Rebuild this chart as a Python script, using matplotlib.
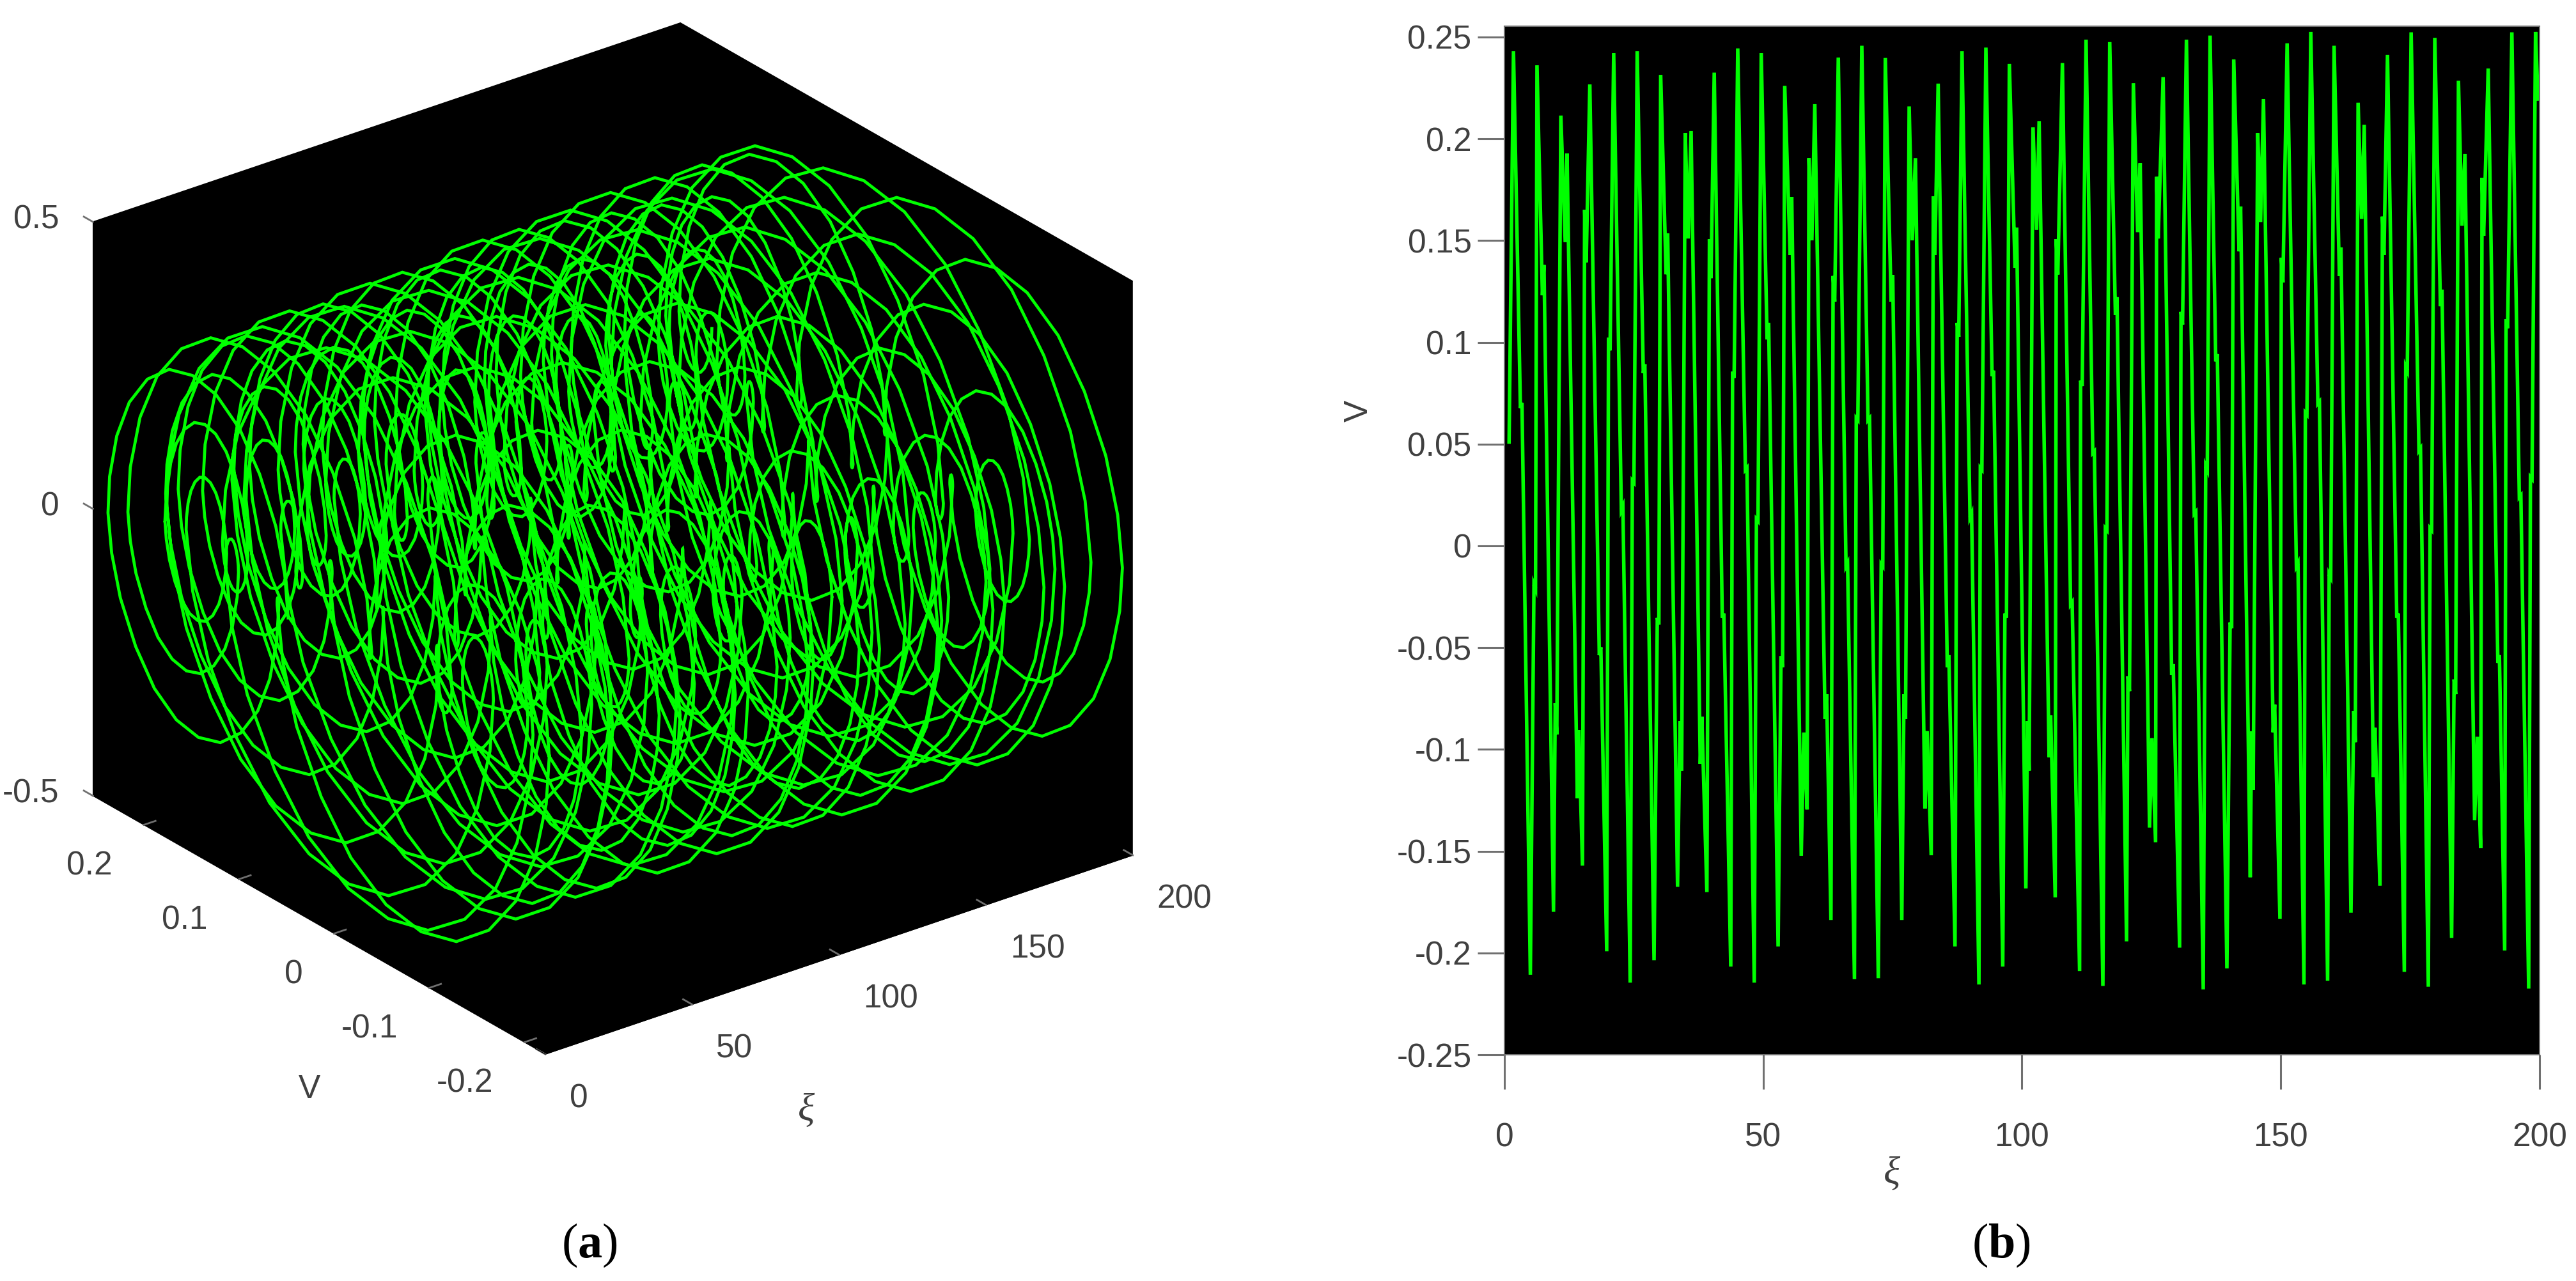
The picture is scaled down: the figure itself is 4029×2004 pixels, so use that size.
'''
(a) 3D phase orbit and (b) time series of V against xi, green on black
'''

import matplotlib
matplotlib.use('Agg')
import matplotlib.pyplot as plt
import numpy as np

# peaks, troughs and the small dips of the double peaks, in order along xi
xi_ext = [0.90, 1.75, 5.01, 6.29, 9.48, 10.90, 11.75, 12.10, 14.09, 14.37, 15.08, 16.50, 19.76, 21.11, 24.30,
          25.65, 28.91, 30.19, 33.45, 34.94, 35.50, 36.07, 39.12, 40.54, 43.73, 45.08, 48.27, 49.62, 52.88, 54.16,
          57.35, 57.85, 58.48, 58.84, 59.40, 59.97, 63.09, 64.51, 67.63, 69.05, 72.24, 73.59, 76.78, 78.20, 78.80,
          79.41, 81.25, 81.67, 82.46, 83.80, 87.06, 88.41, 91.68, 93.02, 96.28, 97.56, 100.75, 102.13, 102.82, 103.31,
          106.42, 107.81, 111.13, 112.38, 115.63, 116.95, 120.20, 121.52, 122.35, 122.84, 124.64, 125.12, 125.81,
          127.27, 130.45, 131.77, 135.02, 136.34, 139.59, 140.91, 144.10, 145.55, 146.10, 146.66, 149.84, 151.23,
          154.48, 155.80, 159.05, 160.30, 163.56, 164.94, 165.63, 166.12, 169.16, 170.62, 173.87, 175.19, 178.51,
          179.76, 183.01, 184.33, 185.02, 185.58, 187.45, 187.98, 188.62, 190.08, 193.26, 194.65, 197.90, 199.22, 199.70]
v_ext = [0.0510, 0.2430, -0.2107, 0.2361, -0.1798, 0.2114, 0.1492, 0.1928, -0.1240, -0.0905, -0.1571, 0.2267, -0.1992, 0.2421, -0.2146,
         0.2430, -0.2036, 0.2314, -0.1675, 0.2028, 0.1510, 0.2038, -0.1701, 0.2325, -0.2067, 0.2444, -0.2146, 0.2421, -0.1968, 0.2260,
         -0.1523, -0.0917, -0.1295, 0.1905, 0.1501, 0.2170, -0.1838, 0.2399, -0.2129, 0.2457, -0.2124, 0.2397, -0.1838, 0.2159, 0.1501,
         0.1905, -0.1291, -0.0910, -0.1520, 0.2271, -0.1968, 0.2430, -0.2155, 0.2448, -0.2067, 0.2368, -0.1683, 0.2056, 0.1552, 0.2087,
         -0.1727, 0.2372, -0.2089, 0.2487, -0.2162, 0.2475, -0.1943, 0.2273, 0.1541, 0.1880, -0.1384, -0.0945, -0.1456,
         0.2303, -0.1974, 0.2487, -0.2179, 0.2507, -0.2076, 0.2390, -0.1628, 0.2028, 0.1591, 0.2195, -0.1833, 0.2469,
         -0.2155, 0.2525, -0.2137, 0.2457, -0.1802, 0.2177, 0.1606, 0.2069, -0.1670, 0.2412, -0.2093, 0.2523, -0.2166,
         0.2496, -0.1926, 0.2285, 0.1573, 0.1925, -0.1348, -0.0938, -0.1485, 0.2345, -0.1988, 0.2523, -0.2175, 0.2525, 0.2195]

# ledges on the way down
fall_xi = [3.24, 7.49, 18.48, 22.74, 26.98, 31.39, 37.99, 42.24, 46.71, 50.90, 55.36, 62.10, 66.15, 70.40, 74.87, 85.72, 90.11, 94.37,
           98.81, 105.39, 109.54, 113.83, 118.20, 129.07, 133.43, 137.59, 142.09, 148.67, 153.17, 157.32, 161.48, 168.05, 172.56,
           176.85, 181.00, 192.09, 196.24]
fall_hi = [0.0703, 0.1380, -0.0498, 0.0194, 0.0892, 0.1534, -0.0839, -0.0332, 0.0383, 0.1096, 0.1714, -0.0729, -0.0085, 0.0627, 0.1330, -0.0537, 0.0158, 0.0861,
           0.1564, -0.0833, -0.0277, 0.0464, 0.1222, -0.0581, 0.0167, 0.0942, 0.1667, -0.0780, -0.0085, 0.0708, 0.1465, -0.0894, -0.0332,
           0.0479, 0.1258, -0.0537, 0.0248]
fall_lo = [0.0677, 0.1231, -0.0537, 0.0176, 0.0849, 0.1334, -0.1071, -0.0354, 0.0374, 0.1014, 0.1429, -0.0850, -0.0100, 0.0618, 0.1200, -0.0597, 0.0140, 0.0834,
           0.1366, -0.1038, -0.0288, 0.0456, 0.1135, -0.0634, 0.0158, 0.0906, 0.1447, -0.0916, -0.0100, 0.0699, 0.1326, -0.1137, -0.0354,
           0.0468, 0.1177, -0.0575, 0.0239]

# ledges on the way up
rise_xi = [5.86, 9.97, 15.65, 20.26, 24.87, 29.69, 34.09, 39.76, 44.23, 48.84, 53.59, 63.66, 68.13, 72.95, 77.35, 83.02, 87.63, 92.10, 96.85,
           101.23, 106.77, 111.48, 116.26, 120.62, 126.16, 130.87, 135.65, 140.36, 144.51, 150.26, 154.90, 159.50, 164.25, 169.79, 174.29,
           179.00, 183.64, 189.04, 193.68, 198.39]
rise_hi = [-0.0190, -0.0773, 0.1651, 0.1023, 0.0320, -0.0354, -0.0861, 0.1506, 0.0856, 0.0131, -0.0542, 0.1326, 0.0627, -0.0090, -0.0729, 0.1717, 0.1096, 0.0383, -0.0332,
           -0.0861, 0.1507, 0.0812, 0.0086, -0.0641, 0.1813, 0.1150, 0.0392, -0.0376, -0.0912, 0.1415, 0.0654, -0.0140, -0.0811, 0.1618, 0.0879,
           0.0086, -0.0656, 0.1808, 0.1114, 0.0338]
rise_lo = [-0.0210, -0.0927, 0.1393, 0.0960, 0.0311, -0.0387, -0.1104, 0.1315, 0.0825, 0.0122, -0.0597, 0.1200, 0.0618, -0.0100, -0.0850, 0.1429, 0.1027, 0.0374, -0.0354,
           -0.1104, 0.1333, 0.0785, 0.0077, -0.0714, 0.1510, 0.1087, 0.0374, -0.0405, -0.1199, 0.1294, 0.0645, -0.0155, -0.0965, 0.1429, 0.0861,
           0.0077, -0.0729, 0.1523, 0.1069, 0.0329]

# shape of one polygonal half turn of the orbit
arc_v_frac = [0.0, 0.02, 0.07, 0.16, 0.27, 0.40, 0.53, 0.66, 0.78, 0.88, 0.95, 0.99, 1.0]
arc_z_frac = [0.0, 0.22, 0.45, 0.68, 0.86, 0.97, 1.0, 0.96, 0.84, 0.66, 0.44, 0.20, 0.0]

xi_ticks = [0, 50, 100, 150, 200]
v_ticks_3d = [-0.2, -0.1, 0, 0.1, 0.2]
z_ticks = [-0.5, 0, 0.5]
v_ticks = [-0.25, -0.2, -0.15, -0.1, -0.05, 0, 0.05, 0.1, 0.15, 0.2, 0.25]

W, H = 4029, 2004
GREEN = '#00ff00'
TXT = '#404040'
TICK = '#707070'
plt.rcParams['font.family'] = ['Liberation Sans', 'DejaVu Sans']
plt.rcParams['mathtext.fontset'] = 'custom'
plt.rcParams['mathtext.bf'] = 'Liberation Serif:bold'
plt.rcParams['mathtext.rm'] = 'Liberation Serif'

# merge everything into one line, ordered by xi
d = 0.15
xs = list(xi_ext)
vs = list(v_ext)
for x, hi, lo in zip(fall_xi, fall_hi, fall_lo):
    xs += [x - d, x + d]
    vs += [lo, hi]
for x, hi, lo in zip(rise_xi, rise_hi, rise_lo):
    xs += [x - d, x + d]
    vs += [hi, lo]
xs = np.array(xs)
vs = np.array(vs)
order = np.argsort(xs)
xs = xs[order]
vs = vs[order]

# the orbit goes through the same (xi, V) points, bulging in z between them
fv = np.array(arc_v_frac)
fz = np.array(arc_z_frac)
fx = np.arange(len(fv)) / (len(fv) - 1)
orb_x, orb_v, orb_z = [], [], []
for i in range(len(xs) - 1):
    dv = vs[i + 1] - vs[i]
    amp = min(0.46, 1.8 * (abs(dv) / 2) ** 0.73)
    orb_x.append(xs[i] + (xs[i + 1] - xs[i]) * fx)
    orb_v.append(vs[i] + dv * fv)
    orb_z.append(np.sign(dv) * amp * fz)
orb_x = np.concatenate(orb_x)
orb_v = np.concatenate(orb_v)
orb_z = np.concatenate(orb_z)

fig = plt.figure(figsize=(W / 100, H / 100), dpi=100, facecolor='w')

# panel a
side = 1800
ax3 = fig.add_axes([34.2 / W, 237.2 / H, side / W, side / H], projection='3d', proj_type='ortho')
ax3.patch.set_alpha(0)
ax3.set_box_aspect((1.16, 1.16, 1.0), zoom=1.036)
ax3.view_init(elev=26.1, azim=-127.6)
ax3.plot(orb_x, orb_v, orb_z, color=GREEN, lw=3.4, solid_joinstyle='miter')
ax3.set_xlim(0, 200)
ax3.set_ylim(-0.222, 0.2535)
ax3.set_zlim(-0.5, 0.5)
ax3.set_xticks(xi_ticks)
ax3.set_yticks(v_ticks_3d)
ax3.set_zticks(z_ticks)
ax3.set_xticklabels(['%g' % t for t in xi_ticks], ha='left', va='center')
ax3.set_yticklabels(['%g' % t for t in v_ticks_3d], ha='right', va='center')
ax3.set_zticklabels(['%g' % t for t in z_ticks], ha='right', va='center')
ax3.grid(False)
# z ticks point along V here, not along xi
ax3.zaxis._get_tickdir = lambda pos: 1
for axis in [ax3.xaxis, ax3.yaxis, ax3.zaxis]:
    axis.set_pane_color((0, 0, 0, 1))
    axis.pane.set_edgecolor('k')
    axis.line.set_color('k')
    axis._axinfo['tick']['inward_factor'] = 0.0
    axis._axinfo['tick']['outward_factor'] = 0.25
    axis._axinfo['tick']['color'] = TICK
    axis._axinfo['tick']['linewidth'] = {True: 2.0, False: 1.0}
ax3.tick_params(axis='both', labelsize=37, labelcolor=TXT, color=TICK, width=2, pad=28)
ax3.tick_params(axis='z', labelsize=37, labelcolor=TXT, color=TICK, width=2, pad=14)

# panel b
ax = fig.add_axes([2353 / W, (H - 1650) / H, (3972 - 2353) / W, (1650 - 41) / H])
ax.set_facecolor('k')
ax.plot(xs, vs, color=GREEN, lw=4.0, solid_joinstyle='miter')
ax.set_xlim(0, 200)
ax.set_ylim(-0.2497, 0.2553)
ax.set_xticks(xi_ticks)
ax.set_yticks(v_ticks)
ax.set_xticklabels(['%g' % t for t in xi_ticks])
ax.set_yticklabels(['%g' % t for t in v_ticks])
ax.tick_params(axis='x', length=39, width=2.2, color=TICK, labelcolor=TXT, labelsize=37, pad=37)
ax.tick_params(axis='y', length=30, width=2.2, color=TICK, labelcolor=TXT, labelsize=37, pad=7)
for sp in ax.spines.values():
    sp.set_color(TICK)
    sp.set_linewidth(1.5)

# axis names and captions
fig.text(2959 / W, 1 - 1837 / H, '\u03be', family='Liberation Serif', style='italic', fontsize=44, color=TXT, ha='center', va='center')
fig.text(2125 / W, 1 - 643 / H, 'V', fontsize=37, color=TXT, rotation=90, ha='center', va='center')
fig.text(484 / W, 1 - 1705 / H, 'V', fontsize=37, color=TXT, ha='center', va='center')
fig.text(1261 / W, 1 - 1738 / H, '\u03be', family='Liberation Serif', style='italic', fontsize=44, color=TXT, ha='center', va='center')
fig.text(922 / W, 1 - 1948 / H, r'($\mathbf{a}$)', family='Liberation Serif', fontsize=55, color='k', ha='center', va='center')
fig.text(3130 / W, 1 - 1948 / H, r'($\mathbf{b}$)', family='Liberation Serif', fontsize=55, color='k', ha='center', va='center')

fig.savefig('out.png', dpi=100)
